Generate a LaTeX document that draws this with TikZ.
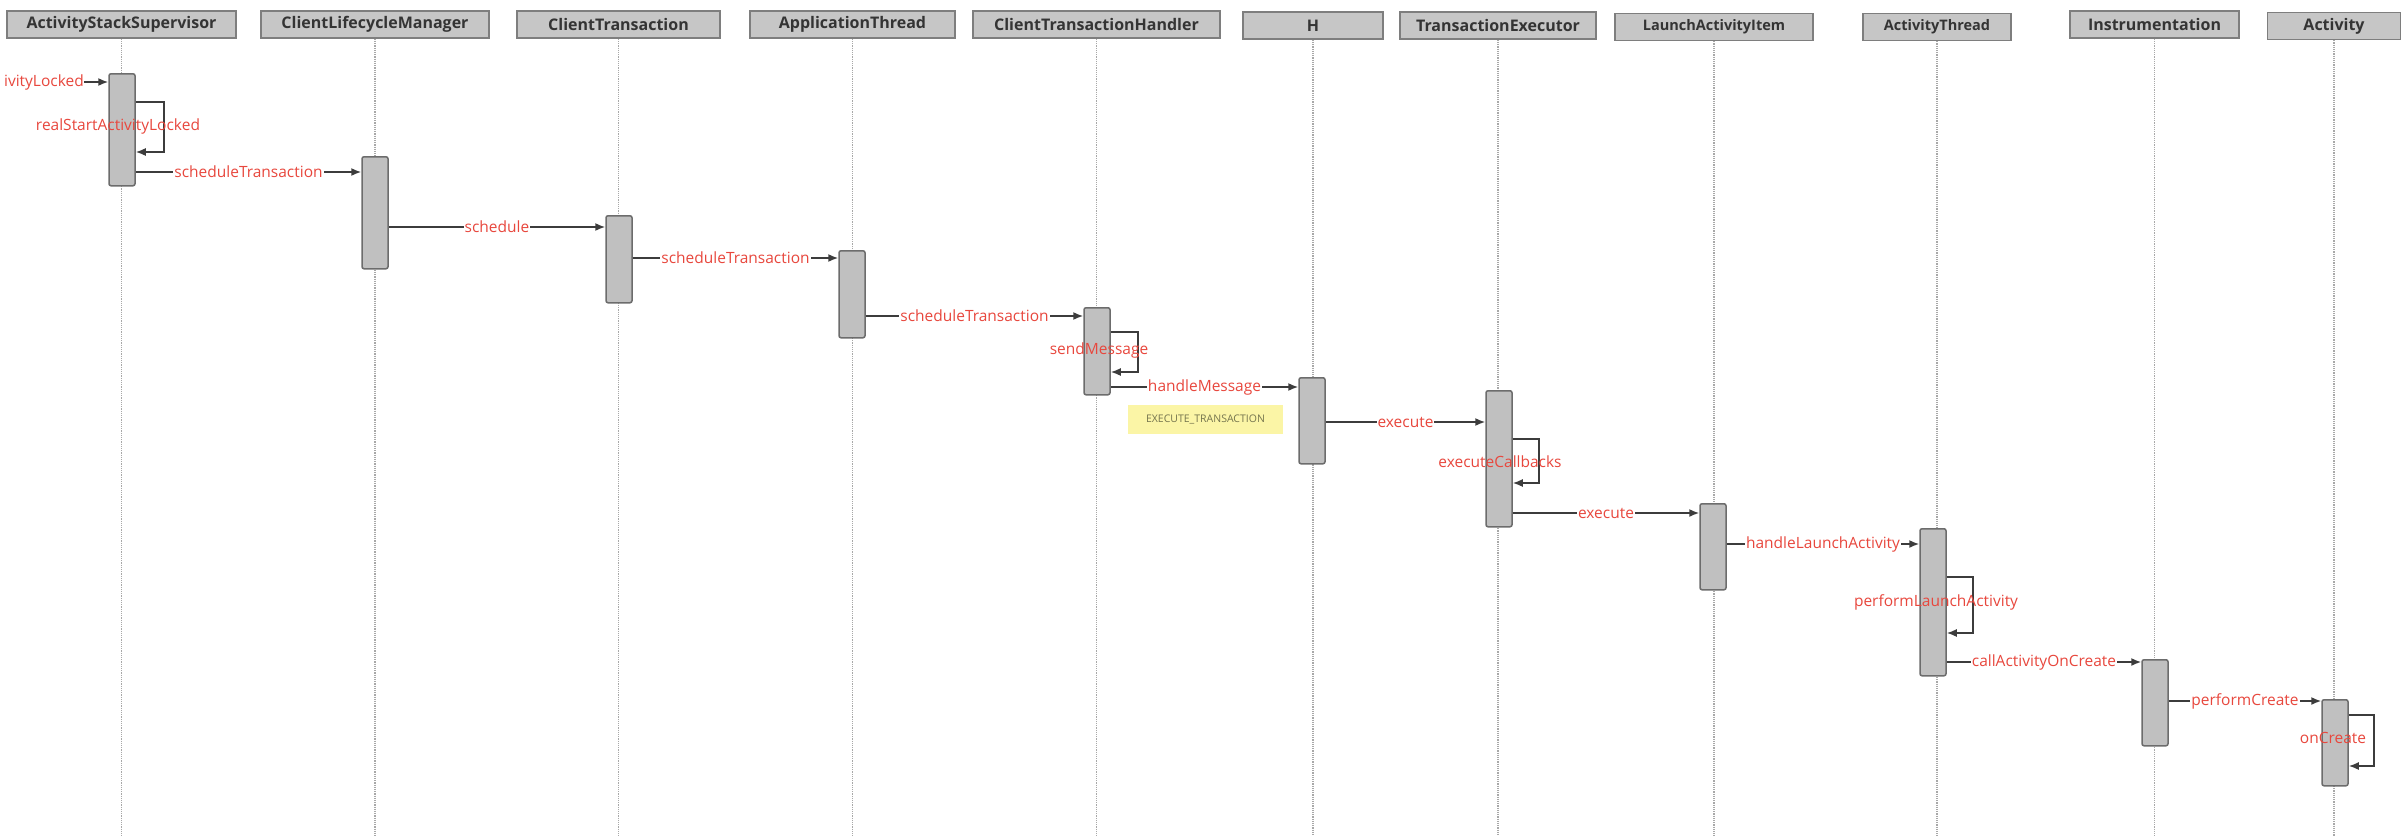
\documentclass[tikz,border=0pt]{standalone}
\usepackage{fontspec}
\setmainfont{Open Sans}
\usepackage{tikz}
\usetikzlibrary{arrows.meta, positioning, calc}
\definecolor{cHead}{HTML}{C6C6C6}
\definecolor{cHeadLine}{HTML}{7E7E7E}
\definecolor{cHeadText}{HTML}{343434}
\definecolor{cAct}{HTML}{C0C0C0}
\definecolor{cActLine}{HTML}{6C6C6C}
\definecolor{cLbl}{HTML}{E8473D}
\definecolor{cLine}{HTML}{3C3C3C}
\definecolor{cLife}{HTML}{A8A8A8}
\definecolor{cNote}{HTML}{FBF5A6}
\definecolor{cNoteText}{HTML}{75754E}
\tikzstyle{head}    = [rectangle, draw=cHeadLine, fill=cHead, line width=1.5pt, minimum height=27pt, inner sep=0pt, text=cHeadText, font=\fontsize{16}{18}\selectfont\bfseries]
\tikzstyle{act}     = [rectangle, rounded corners=2pt, draw=cActLine, fill=cAct, line width=1.5pt, minimum width=26pt, inner sep=0pt, anchor=north]
\tikzstyle{lbl}     = [fill=white, inner sep=1pt, text=cLbl, font=\fontsize{15.5}{17}\selectfont]
\tikzstyle{selflbl} = [inner sep=0pt, text=cLbl, font=\fontsize{15.5}{17}\selectfont]
\tikzstyle{msg}     = [line width=1.6pt, draw=cLine, -{Latex[length=10pt, width=8pt]}]
\tikzstyle{life}    = [densely dotted, draw=cLife, line width=1.2pt]
\tikzstyle{note}    = [rectangle, fill=cNote, inner sep=0pt, text=cNoteText, font=\fontsize{10.5}{12}\selectfont]

\begin{document}
\begin{tikzpicture}[x=1pt, y=-1pt]
\useasboundingbox (0,0) rectangle (2404,836);
\fill [white] (0,0) rectangle (2404,836);
\clip (0,0) rectangle (2404,836);
\coordinate (bottom) at (0,836);

% participants
\node (hASS) [head, minimum width=229pt] at (121.5,24.5) {ActivityStackSupervisor};
\node (hCLM) [head, minimum width=228pt] at (375,24.5) {ClientLifecycleManager};
\node (hCT)  [head, minimum width=203pt] at (618.5,24.5) {ClientTransaction};
\node (hAT)  [head, minimum width=205pt] at (852.5,24.5) {ApplicationThread};
\node (hCTH) [head, minimum width=247pt] at (1096.5,24.5) {ClientTransactionHandler};
\node (hH)   [head, minimum width=140pt] at (1313,25.5) {H};
\node (hTE)  [head, minimum width=196pt] at (1498,25.5) {TransactionExecutor};
\node (hLAI) [head, minimum width=198pt, font=\fontsize{14.5}{17}\selectfont\bfseries] at (1714,27) {LaunchActivityItem};
\node (hAT2) [head, minimum width=148pt, font=\fontsize{14.5}{17}\selectfont\bfseries] at (1937,27) {ActivityThread};
\node (hIN)  [head, minimum width=169pt] at (2154.5,24.5) {Instrumentation};
\node (hAC)  [head, minimum width=133pt] at (2334,26) {Activity};

% lifelines
\foreach \p in {hASS,hCLM,hCT,hAT,hCTH,hH,hTE,hLAI,hAT2,hIN,hAC}
  \draw [life] (\p.south) -- (\p.south |- bottom);

% activations
\node (aASS) [act, minimum height=112pt] at (122,73) {};
\node (aCLM) [act, minimum height=112pt] at (375,156) {};
\node (aCT)  [act, minimum height=87pt]  at (619,215) {};
\node (aAT)  [act, minimum height=87pt]  at (852,250) {};
\node (aCTH) [act, minimum height=87pt]  at (1097,307) {};
\node (aH)   [act, minimum height=86pt]  at (1312,377) {};
\node (aTE)  [act, minimum height=136pt] at (1499,390) {};
\node (aLAI) [act, minimum height=86pt]  at (1713,503) {};
\node (aAT2) [act, minimum height=147pt] at (1933,528) {};
\node (aIN)  [act, minimum height=86pt]  at (2155,659) {};
\node (aAC)  [act, minimum height=86pt]  at (2335,699) {};

% messages
\node (lEntry) [lbl, anchor=east, inner sep=0pt] at (84,82) {ivityLocked};
\draw [msg] (lEntry.east) -- (aASS.west |- lEntry.east);

\draw [msg] (aASS.east |- 0,102) -- ++(28,0) |- (aASS.east |- 0,152);
\node (lRSAL) [selflbl] at (118,126) {realStartActivityLocked};

\draw [msg] (aASS.east |- 0,172) -- node[lbl]{scheduleTransaction} (aCLM.west |- 0,172);
\draw [msg] (aCLM.east |- 0,227) -- node[lbl]{schedule} (aCT.west |- 0,227);
\draw [msg] (aCT.east |- 0,258) -- node[lbl]{scheduleTransaction} (aAT.west |- 0,258);
\draw [msg] (aAT.east |- 0,316) -- node[lbl]{scheduleTransaction} (aCTH.west |- 0,316);

\draw [msg] (aCTH.east |- 0,332) -- ++(27,0) |- (aCTH.east |- 0,372);
\node (lSend) [selflbl] at (1099,350) {sendMessage};

\draw [msg] (aCTH.east |- 0,387) -- node[lbl]{handleMessage} (aH.west |- 0,387);
\node (nExec) [note, minimum width=155pt, minimum height=29pt] at (1205.5,419.5) {EXECUTE\_TRANSACTION};

\draw [msg] (aH.east |- 0,422) -- node[lbl]{execute} (aTE.west |- 0,422);

\draw [msg] (aTE.east |- 0,439) -- ++(26,0) |- (aTE.east |- 0,483);
\node (lCallb) [selflbl] at (1500,462) {executeCallbacks};

\draw [msg] (aTE.east |- 0,513) -- node[lbl]{execute} (aLAI.west |- 0,513);
\draw [msg] (aLAI.east |- 0,544) -- node[lbl]{handleLaunchActivity} (aAT2.west |- 0,544);

\draw [msg] (aAT2.east |- 0,577) -- ++(26,0) |- (aAT2.east |- 0,633);
\node (lPerf) [selflbl] at (1936,602) {performLaunchActivity};

\draw [msg] (aAT2.east |- 0,662) -- node[lbl]{callActivityOnCreate} (aIN.west |- 0,662);
\draw [msg] (aIN.east |- 0,701) -- node[lbl]{performCreate} (aAC.west |- 0,701);

\draw [msg] (aAC.east |- 0,715) -- ++(25,0) |- (aAC.east |- 0,766);
\node (lOnCr) [selflbl] at (2333,738) {onCreate};
\end{tikzpicture}
\end{document}
